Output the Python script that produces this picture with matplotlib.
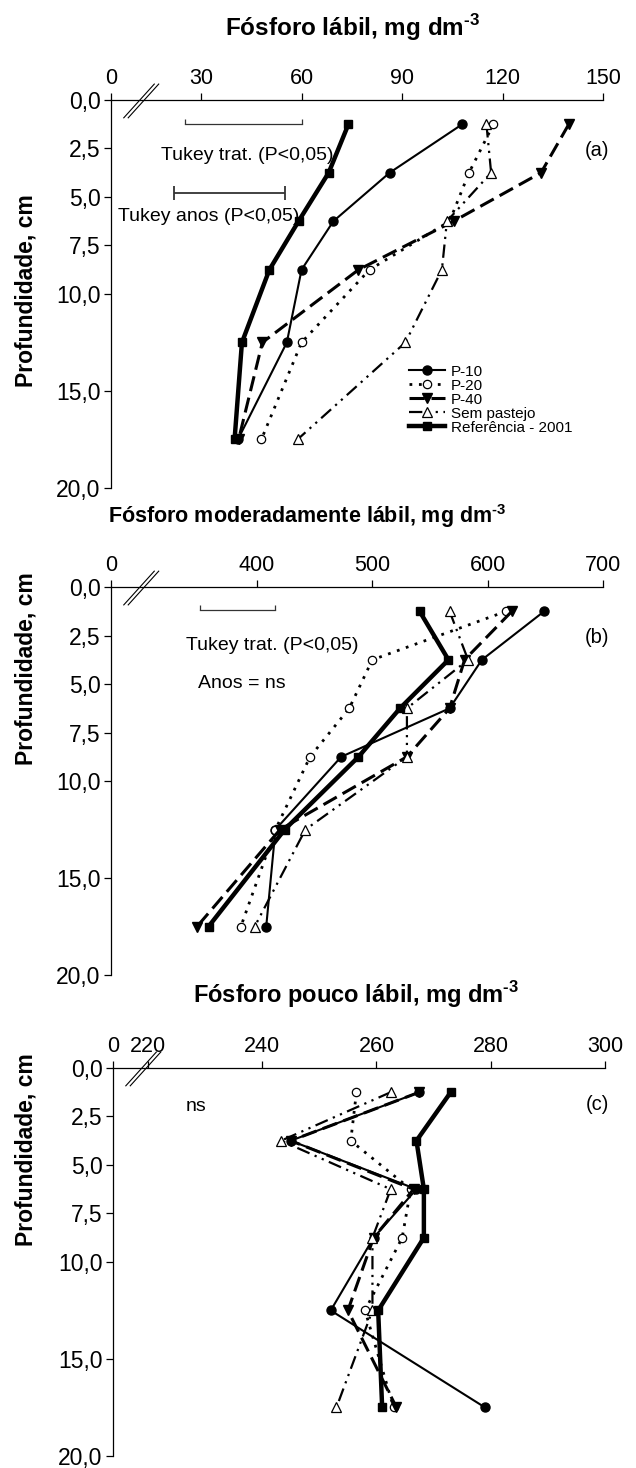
import matplotlib
matplotlib.use("Agg")
import matplotlib.pyplot as plt

plt.rcParams['font.family'] = ['Liberation Sans', 'DejaVu Sans']
plt.rcParams['mathtext.fontset'] = 'custom'
plt.rcParams['mathtext.rm'] = 'Liberation Sans:bold'
plt.rcParams['mathtext.bf'] = 'Liberation Sans:bold'

# profundidade das camadas (cm)
profundidade = [1.25, 3.75, 6.25, 8.75, 12.5, 17.5]
tratamentos = ["P-10", "P-20", "P-40", "Sem pastejo", "Referência - 2001"]

# (a) fosforo labil
lab_p10 = [108, 86.3, 69.5, 60, 55.6, 41]
lab_p20 = [117.3, 110, 104.2, 80.3, 60, 48]
lab_p40 = [139.8, 131.5, 105.4, 77, 48.3, 41.2]
lab_sem = [115.2, 116.6, 103.4, 101.9, 91, 58.8]
lab_ref = [74, 68.1, 59.1, 50.4, 42.2, 40]

# (b) fosforo moderadamente labil
mod_p10 = [649, 595, 567, 473, 416, 408]
mod_p20 = [616, 500, 480, 446, 416, 386]
mod_p40 = [621, 580, 567, 530, 420, 348]
mod_sem = [567, 583, 530, 530, 442, 398]
mod_ref = [541, 566, 524, 488, 424, 358]

# (c) fosforo pouco labil
pou_p10 = [267.5, 245, 267, 259.5, 252, 279]
pou_p20 = [256.5, 255.5, 266, 264.5, 258, 263]
pou_p40 = [267.5, 245, 266.5, 259.5, 255, 263.5]
pou_sem = [262.5, 243.3, 262.5, 259.3, 259.3, 253]
pou_ref = [273, 267, 268.3, 268.3, 260.3, 261]

yticks = [0, 2.5, 5, 7.5, 10, 15, 20]
ylabels = ["0,0", "2,5", "5,0", "7,5", "10,0", "15,0", "20,0"]

# barras de Tukey (inicio, fim)
tukey_trat_a = (25.2, 60.2)
tukey_anos_a = (22, 55)
tukey_trat_b = (351, 416)

estilos = {
    "P-10": dict(ls='-', lw=1.5, marker='o', ms=6.5, mfc='k'),
    "P-20": dict(ls=(0, (1, 2.4)), lw=2.0, marker='o', ms=6, mfc='white', mew=0.9),
    "P-40": dict(ls=(0, (5, 2.2)), lw=2.2, marker='v', ms=6.5, mfc='k'),
    "Sem pastejo": dict(ls=(0, (6, 2.5, 1, 2.5, 1, 2.5)), lw=1.6, marker='^', ms=6.5,
                        mfc='white', mew=0.9),
    "Referência - 2001": dict(ls='-', lw=3.2, marker='s', ms=6, mfc='k'),
}

fig = plt.figure(figsize=(6.36, 14.68), dpi=100)


def painel(pos, series, xmin, xmax, xticks, xlabels):
    ax = fig.add_axes(pos)
    for nome, valores in zip(tratamentos, series):
        ax.plot(valores, profundidade, color='k', mec='k', label=nome, **estilos[nome])
    ax.set_xlim(xmin, xmax)
    ax.set_ylim(20, 0)
    ax.xaxis.tick_top()
    ax.set_xticks(xticks)
    ax.set_xticklabels(xlabels, fontsize=15.5)
    ax.set_yticks(yticks)
    ax.set_yticklabels(ylabels, fontsize=16.5)
    ax.tick_params(axis='x', direction='out', length=5, width=0.9, pad=3, colors='k')
    ax.tick_params(axis='y', direction='out', length=5, width=0.9, pad=2.5, colors='k')
    ax.spines['right'].set_visible(False)
    ax.spines['bottom'].set_visible(False)
    ax.spines['top'].set_linewidth(0.9)
    ax.spines['left'].set_linewidth(0.9)
    # marcas de quebra do eixo
    for dx in (0, 0.009):
        ax.plot([0.026 + dx, 0.088 + dx], [0.954, 1.041], color='k', lw=0.8,
                transform=ax.transAxes, clip_on=False)
    return ax


# (a)
axa = painel([0.1745, 0.6676, 0.7736, 0.2643],
             [lab_p10, lab_p20, lab_p40, lab_sem, lab_ref],
             3.1, 150, [3.1, 30, 60, 90, 120, 150], ["0", "30", "60", "90", "120", "150"])
axa.plot(tukey_trat_a, [1.25, 1.25], color='#333333', lw=0.9)
axa.vlines(tukey_trat_a, 1.0, 1.25, color='#333333', lw=0.9)
axa.text(43.7, 2.84, "Tukey trat. (P<0,05)", fontsize=14, ha='center', va='center')
axa.errorbar([sum(tukey_anos_a) / 2], [4.8], xerr=[(tukey_anos_a[1] - tukey_anos_a[0]) / 2],
             color='#333333', lw=1.3, capsize=5, capthick=1.3)
axa.text(32.4, 6.03, "Tukey anos (P<0,05)", fontsize=14, ha='center', va='center')
axa.text(148.3, 2.58, "(a)", fontsize=14.5, ha='center', va='center')
axa.legend(loc='upper left', bbox_to_anchor=(0.605, 0.318), frameon=False, fontsize=11,
           handlelength=2.4, handletextpad=0.35, labelspacing=0.0, borderpad=0,
           borderaxespad=0)

# (b)
axb = painel([0.1745, 0.3358, 0.7736, 0.2643],
             [mod_p10, mod_p20, mod_p40, mod_sem, mod_ref],
             273.4, 700, [273.4, 400, 500, 600, 700], ["0", "400", "500", "600", "700"])
axb.plot(tukey_trat_b, [1.19, 1.19], color='#333333', lw=0.9)
axb.vlines(tukey_trat_b, 0.94, 1.19, color='#333333', lw=0.9)
axb.text(413, 2.99, "Tukey trat. (P<0,05)", fontsize=14, ha='center', va='center')
axb.text(387, 4.95, "Anos = ns", fontsize=14, ha='center', va='center')
axb.text(694.9, 2.58, "(b)", fontsize=14.5, ha='center', va='center')

# (c)
axc = painel([0.1777, 0.0082, 0.7736, 0.2643],
             [pou_p10, pou_p20, pou_p40, pou_sem, pou_ref],
             213.9, 300, [213.9, 220, 240, 260, 280, 300],
             ["0", "220", "240", "260", "280", "300"])
axc.text(228.5, 2.0, "ns", fontsize=14, ha='center', va='center')
axc.text(298.6, 1.9, "(c)", fontsize=14.5, ha='center', va='center')

# titulos e rotulos
sup = r"$^{\text{-3}}$"
fig.text(0.555, 1 - 36 / 1468, "Fósforo lábil, mg dm" + sup, fontsize=17.5,
         fontweight='bold', ha='center', va='baseline')
fig.text(0.483, 1 - 523 / 1468, "Fósforo moderadamente lábil, mg dm" + sup, fontsize=15.5,
         fontweight='bold', ha='center', va='baseline')
fig.text(0.560, 1 - 1003 / 1468, "Fósforo pouco lábil, mg dm" + sup, fontsize=17,
         fontweight='bold', ha='center', va='baseline')
for yc in (291, 669, 1150):
    fig.text(0.041, 1 - yc / 1468, "Profundidade, cm", fontsize=16.5, fontweight='bold',
             rotation=90, ha='center', va='center')

fig.savefig("out.png", dpi=100)
